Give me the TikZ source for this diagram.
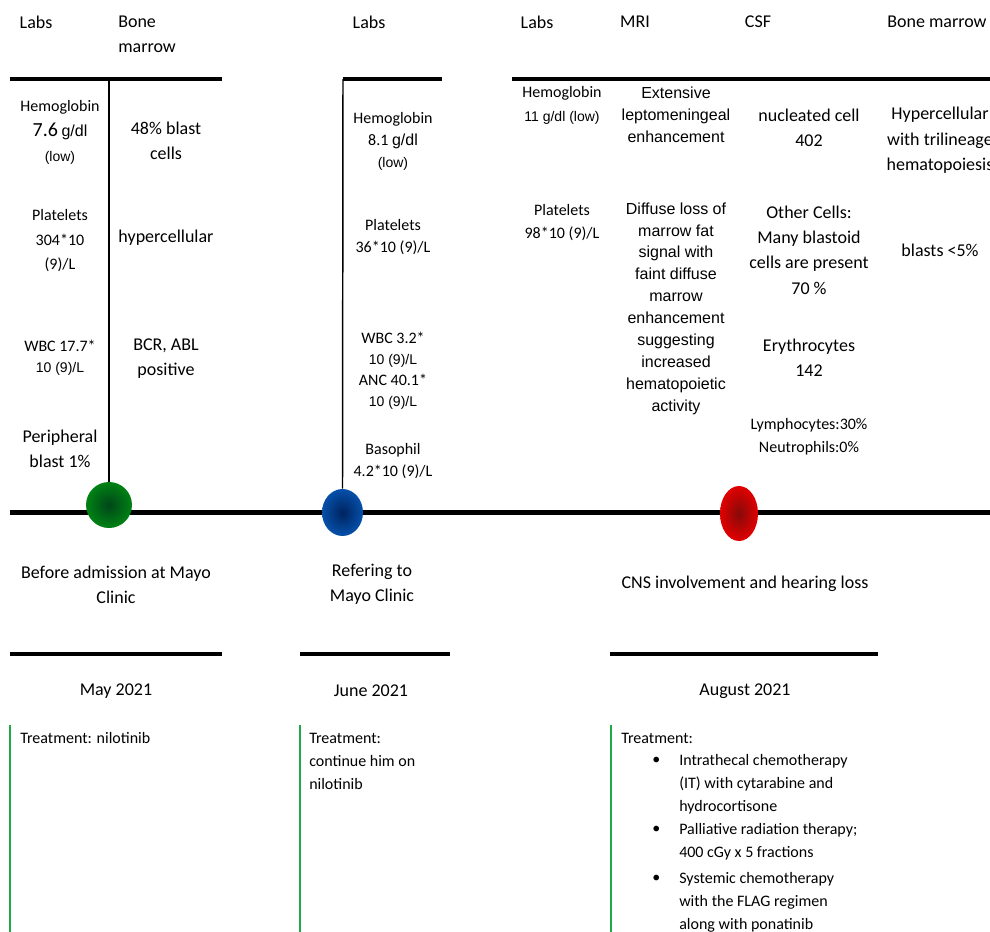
\documentclass[tikz,border=0pt]{standalone}
\usepackage{fontspec}
\setmainfont{Carlito}
\newfontfamily\arialfont{Liberation Sans}
\usetikzlibrary{shapes}
\definecolor{maygreen}{RGB}{0,130,20}
\definecolor{maygreendark}{RGB}{0,70,25}
\definecolor{juneblue}{RGB}{5,80,170}
\definecolor{junebluedark}{RGB}{0,35,95}
\definecolor{augred}{RGB}{225,0,0}
\definecolor{augreddark}{RGB}{135,10,10}
\definecolor{treatgreen}{RGB}{30,170,70}
\newcommand{\arsmall}[1]{{\arialfont\fontsize{10.5}{12}\selectfont #1}}
\newcommand{\armid}[1]{{\arialfont #1}}
\tikzstyle{timeline}=[line width=3.75pt]
\tikzstyle{topbar}=[line width=3pt]
\tikzstyle{stem}=[line width=1.1pt]
\tikzstyle{treatline}=[draw=treatgreen,line width=1.2pt]
\tikzstyle{headlabel}=[inner sep=0pt,font=\fontsize{13.5}{18.75}\selectfont]
\tikzstyle{bigtext}=[inner sep=0pt,align=center,font=\fontsize{13.5}{18.75}\selectfont]
\tikzstyle{labtextA}=[inner sep=0pt,align=center,font=\fontsize{12}{18.4}\selectfont]
\tikzstyle{labtextB}=[inner sep=0pt,align=center,font=\fontsize{12}{16.5}\selectfont]
\tikzstyle{mritext}=[inner sep=0pt,align=center,font=\arialfont\fontsize{12}{16.4}\selectfont]
\tikzstyle{treattext}=[inner sep=0pt,align=left,anchor=west,font=\fontsize{12}{17.25}\selectfont]
\tikzstyle{dot}=[inner sep=0pt,ellipse]

\begin{document}
\begin{tikzpicture}[x=0.75pt,y=-0.75pt]
\clip (0,0) rectangle (990,932);

% headers
\node[headlabel] (HLabsA) at (36,22) {Labs};
\node[headlabel,align=left,anchor=west] (HBoneA) at (118,34.5) {Bone\\marrow};
\node[headlabel] (HLabsB) at (369,22) {Labs};
\node[headlabel] (HLabsC) at (537,22) {Labs};
\node[headlabel] (HMri) at (635,22) {MRI};
\node[headlabel] (HCsf) at (758,22) {CSF};
\node[headlabel,anchor=west] (HBoneC) at (887,22) {Bone marrow};

\draw[topbar] (10,79) -- (222,79);
\draw[topbar] (343,79) -- (442,79);
\draw[topbar] (512,79) -- (990,79);

% May 2021
\node[labtextA,font=\fontsize{12}{18.75}\selectfont] (LA1) at (60,132) {Hemoglobin\\{\fontsize{15}{18}\selectfont 7.6} \armid{g/dl}\\\arsmall{(low)}};
\node[labtextA] (LA2) at (60,241) {Platelets\\304*10\\(9)/L};
\node[labtextA,font=\fontsize{12}{15.75}\selectfont] (LA3) at (60,357.5) {WBC 17.7*\\\arsmall{10 (9)/L}};
\node[bigtext] (LA4) at (60,448.5) {Peripheral\\blast 1\%};
\node[bigtext] (BA1) at (166,140.5) {48\% blast\\cells};
\node[bigtext] (BA2) at (166,238) {hypercellular};
\node[bigtext] (BA3) at (166,358.5) {BCR, ABL\\positive};

% June 2021
\node[labtextB] (LB1) at (393,141) {Hemoglobin\\8.1 \armid{g/dl}\\\arsmall{(low)}};
\node[labtextB] (LB2) at (393,237.5) {Platelets\\36*10 (9)/L};
\node[labtextB,font=\fontsize{12}{15.75}\selectfont] (LB3) at (393,370.5) {WBC 3.2*\\\arsmall{10 (9)/L}\\ANC 40.1*\\\arsmall{10 (9)/L}};
\node[labtextB] (LB4) at (393,461.5) {Basophil\\4.2*10 (9)/L};

% August 2021
\node[labtextB,font=\fontsize{12}{18}\selectfont] (LC1) at (562,105) {Hemoglobin\\\arsmall{11 g/dl (low)}};
\node[labtextB,font=\fontsize{12}{17.25}\selectfont] (LC2) at (562,222.5) {Platelets\\98*10 (9)/L};
\node[mritext] (MC1) at (676,114.5) {Extensive\\leptomeningeal\\enhancement};
\node[mritext] (MC2) at (676,308.5) {Diffuse loss of\\marrow fat\\signal with\\faint diffuse\\marrow\\enhancement\\suggesting\\increased\\hematopoietic\\activity};
\node[bigtext] (CC1) at (809,127.5) {nucleated cell\\402};
\node[bigtext,font=\fontsize{13.5}{19}\selectfont] (CC2) at (809,250) {Other Cells:\\Many blastoid\\cells are present\\70 \%};
\node[bigtext] (CC3) at (809,357.5) {Erythrocytes\\142};
\node[labtextA,font=\fontsize{12}{17.25}\selectfont] (CC4) at (809,436.5) {Lymphocytes:30\%\\Neutrophils:0\%};
\node[bigtext,font=\fontsize{13.5}{19.1}\selectfont] (BC1) at (940,140.5) {Hypercellular\\with trilineage\\hematopoiesis};
\node[bigtext] (BC2) at (940,250) {blasts <5\%};

% time line
\draw[timeline] (10,512) -- (990,512);
\node[dot,circle,inner color=maygreendark,outer color=maygreen,minimum size=34.5pt] (dotMay) at (109,505) {};
\node[dot,inner color=junebluedark,outer color=juneblue,minimum width=30.75pt,minimum height=35.25pt] (dotJune) at (342.5,512.5) {};
\node[dot,inner color=augreddark,outer color=augred,minimum width=28.5pt,minimum height=41.25pt] (dotAug) at (739,513.5) {};
\coordinate (stemMay) at (109,79);
\coordinate (stemJune) at (343,79);
\draw[stem] (stemMay) -- (dotMay.north);
\draw[stem] (stemJune) -- (dotJune.north);

% events
\node[bigtext] (EvMay) at (116,584.5) {Before admission at Mayo\\Clinic};
\node[bigtext] (EvJune) at (372,584.5) {Refering to\\Mayo Clinic};
\node[bigtext] (EvAug) at (745,584) {CNS involvement and hearing loss};

\draw[topbar] (10,654) -- (222,654);
\draw[topbar] (300,654) -- (450,654);
\draw[topbar] (610,654) -- (878,654);

\node[bigtext] (DMay) at (116,691) {May 2021};
\node[bigtext] (DJune) at (371,691) {June 2021};
\node[bigtext] (DAug) at (745,691) {August 2021};

% treatments
\draw[treatline] (10,725) -- (10,932);
\draw[treatline] (300,725) -- (300,932);
\draw[treatline] (611,725) -- (611,932);
\node[treattext] (TMay) at (20,738) {Treatment: nilotinib};
\node[treattext] (TJune) at (309,761) {Treatment:\\continue him on\\nilotinib};
\node[treattext] (TAug) at (621,738) {Treatment:};
\node[treattext] (TB1) at (652,761) {•};
\node[treattext] (TI1) at (679,784) {Intrathecal chemotherapy\\(IT) with cytarabine and\\hydrocortisone};
\node[treattext] (TB2) at (652,830) {•};
\node[treattext] (TI2) at (679,841.5) {Palliative radiation therapy;\\400 cGy x 5 fractions};
\node[treattext] (TB3) at (652,879) {•};
\node[treattext] (TI3) at (679,902) {Systemic chemotherapy\\with the FLAG regimen\\along with ponatinib};

\end{tikzpicture}
\end{document}
